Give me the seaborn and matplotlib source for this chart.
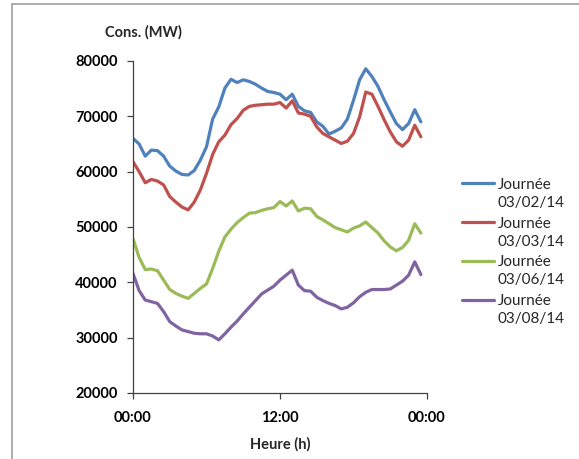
import numpy as np
import pandas as pd
import seaborn as sns
import matplotlib.pyplot as plt
from matplotlib.lines import Line2D

# half-hourly consumption (MW)
hours = [h * 0.5 for h in range(48)]

cons_0302 = [66000, 65000, 62800, 63900, 63800, 62800, 61000, 60100, 59500, 59400,
             60200, 62100, 64500, 69500, 71700, 75100, 76700, 76100, 76600, 76300,
             75800, 75100, 74500, 74300, 74000, 73000, 74000, 71800, 71000, 70700,
             69000, 68200, 66800, 67300, 67900, 69500, 72900, 76600, 78600, 77200,
             75400, 73000, 70800, 68700, 67600, 68700, 71200, 69000]
cons_0303 = [61800, 60000, 58000, 58600, 58300, 57600, 55500, 54500, 53600, 53100,
             54500, 56700, 59700, 63100, 65400, 66600, 68500, 69600, 71100, 71800,
             72000, 72100, 72200, 72200, 72500, 71500, 72800, 70600, 70400, 70000,
             68100, 66900, 66300, 65700, 65100, 65500, 66900, 69900, 74400, 74000,
             71800, 69400, 67200, 65400, 64600, 65700, 68400, 66300]
cons_0306 = [47900, 44500, 42300, 42400, 42100, 40400, 38700, 38000, 37500, 37100,
             38000, 38900, 39700, 42500, 45600, 48200, 49600, 50800, 51700, 52500,
             52600, 53000, 53300, 53500, 54600, 53800, 54700, 52900, 53400, 53300,
             51900, 51300, 50600, 49900, 49500, 49100, 49800, 50200, 50900, 49900,
             48900, 47500, 46400, 45700, 46300, 47600, 50600, 48900]
cons_0308 = [41600, 38500, 36800, 36500, 36200, 34700, 32900, 32100, 31400, 31100,
             30800, 30700, 30700, 30300, 29600, 30700, 31900, 33000, 34300, 35500,
             36700, 37900, 38600, 39300, 40400, 41300, 42200, 39500, 38500, 38400,
             37300, 36700, 36200, 35800, 35200, 35500, 36300, 37400, 38200, 38700,
             38700, 38700, 38800, 39500, 40200, 41300, 43700, 41400]

days = ["Journée\n03/02/14", "Journée\n03/03/14", "Journée\n03/06/14", "Journée\n03/08/14"]
colors = ["#4F81BD", "#C0504D", "#9BBB59", "#8064A2"]
x_ticks = [0, 12, 24]
x_labels = ["00:00", "12:00", "00:00"]
y_ticks = [20000, 30000, 40000, 50000, 60000, 70000, 80000]

frames = []
for day, vals in zip(days, [cons_0302, cons_0303, cons_0306, cons_0308]):
    frames.append(pd.DataFrame({"heure": hours, "cons": vals, "jour": day}))
df = pd.concat(frames, ignore_index=True)

sns.set_style("white")
plt.rcParams['font.family'] = ['Lato', 'DejaVu Sans']

fig = plt.figure(figsize=(5.79, 4.59), dpi=100)
ax = fig.add_axes([133 / 579, 1 - 393 / 459, 294 / 579, 332 / 459])

sns.lineplot(data=df, x="heure", y="cons", hue="jour", palette=colors,
             linewidth=2.3, ax=ax, legend=False)

ax.set_xlim(0, 24)
ax.set_ylim(20000, 80000)
ax.set_xticks(x_ticks)
ax.set_xticklabels(x_labels)
ax.set_yticks(y_ticks)
ax.set_yticklabels([str(v) for v in y_ticks])
for lab in ax.get_xticklabels() + ax.get_yticklabels():
    lab.set_fontweight("bold")
    lab.set_fontsize(10.5)
ax.tick_params(axis="both", direction="out", length=4, width=0.9, color="#404040",
               labelcolor="black")
ax.tick_params(axis="x", pad=9)
ax.tick_params(axis="y", pad=7)
ax.xaxis.set_ticks_position("bottom")
ax.yaxis.set_ticks_position("left")
for side in ["top", "right"]:
    ax.spines[side].set_visible(False)
for side in ["left", "bottom"]:
    ax.spines[side].set_color("#404040")
    ax.spines[side].set_linewidth(0.9)

ax.set_xlabel("Heure (h)", fontweight="bold", fontsize=10.5, labelpad=9)
ax.set_ylabel("")
fig.text(143 / 579, 1 - 32 / 459, "Cons. (MW)", fontweight="bold", fontsize=10.5,
         ha="center", va="center")

handles = [Line2D([], [], color=c, linewidth=2.3) for c in colors]
leg = fig.legend(handles, days, loc="upper left", bbox_to_anchor=(462 / 579, 1 - 178 / 459),
                 frameon=False, fontsize=11, handlelength=2.1, handletextpad=0.25,
                 labelspacing=0.45, borderpad=0, borderaxespad=0)
for t in leg.get_texts():
    t.set_linespacing(1.35)
# put each handle next to the first line of its label
for column in leg._legend_handle_box.get_children():
    for item in column.get_children():
        item.align = "top"

# grey frame around the chart area
fig.add_artist(plt.Line2D([12 / 579, 12 / 579], [0, 1 - 4 / 459], color="#a0a0a0",
                          linewidth=1.2, transform=fig.transFigure))
fig.add_artist(plt.Line2D([12 / 579, 1], [1 - 4 / 459, 1 - 4 / 459], color="#a0a0a0",
                          linewidth=1.2, transform=fig.transFigure))

fig.savefig("out.png", dpi=100)
